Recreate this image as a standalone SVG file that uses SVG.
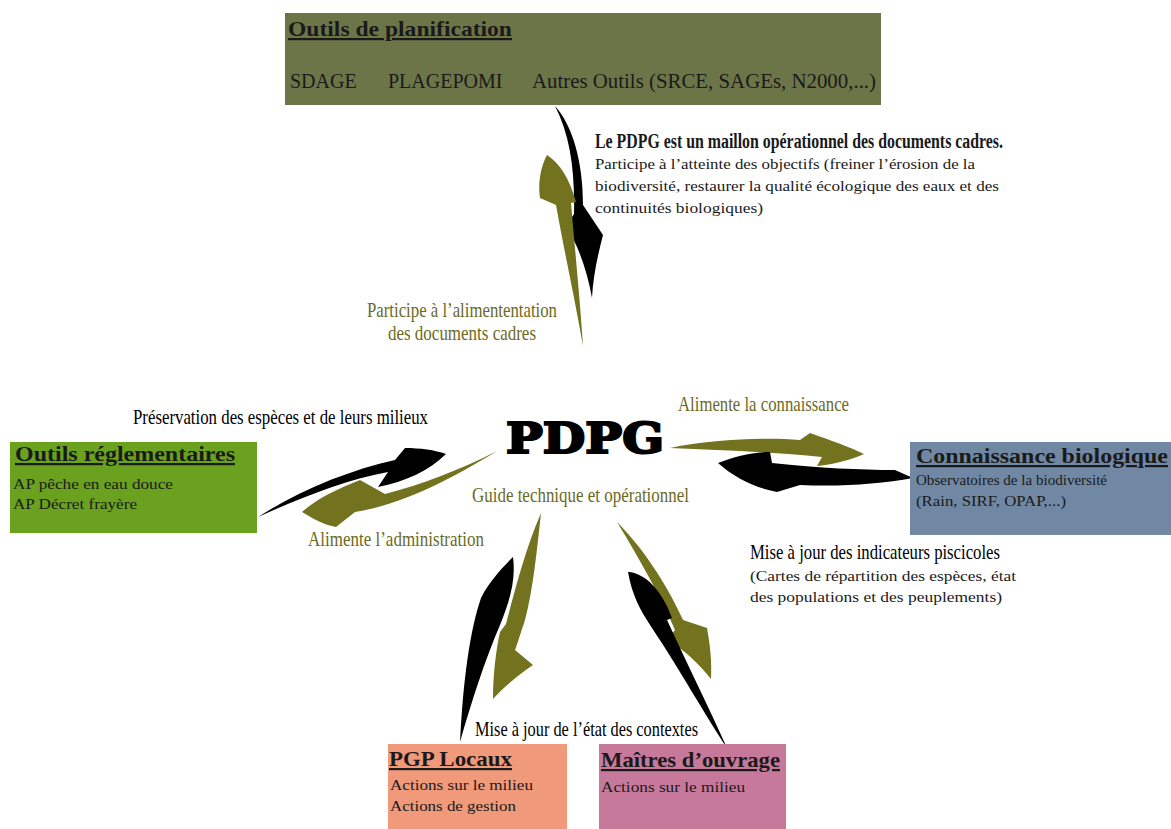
<svg xmlns="http://www.w3.org/2000/svg" width="1171" height="829" viewBox="0 0 1171 829">
<style>
text{font-family:"Liberation Serif","Times New Roman",serif;fill:#1a1a1a}
.ttl{font-weight:bold;font-size:22px;text-decoration:underline}
.body{font-size:15.5px}
.lbl{font-size:21px}
.olv{fill:#6a6a1e}
.bk{fill:#000}
.ol{fill:#72721f}
.gap{fill:none;stroke:#fff;stroke-width:1.2}
</style>
<rect width="1171" height="829" fill="#fff"/>

<g id="connectors">
  <!-- top pair -->
  <path class="bk" d="M555,106 C572,125 583,160 583,205 L603,235 C597,258 593,278 592,298 C587,270 578,245 566,226 L574,214 C575,170 570,135 555,106 Z"/>
  <path class="ol" d="M547,155 C560,163 570,180 576,202 L571,203 C575,250 580,300 583,346 C575,300 565,255 556,205 L540,198 C538,185 540,168 547,155 Z"/>
  <!-- left pair -->
  <path class="bk" d="M258,517 C300,490 350,470 395,460 L405,448 C420,448 435,450 446,454 C430,470 405,482 378,487 L388,472 C345,480 300,498 258,517 Z"/>
  <path class="ol" d="M497,451 C460,470 420,485 385,494 L360,480 C335,490 315,500 302,512 C315,520 325,525 336,527 L355,512 C400,505 450,480 497,451 Z"/>
  <!-- right pair -->
  <path class="ol" d="M670,448 C710,440 760,437 800,440 L810,433 C830,440 850,447 864,454 C850,460 835,464 817,466 L822,457 C770,452 720,450 670,448 Z"/>
  <path class="bk" d="M718,463 C735,456 752,452 770,452 L772,463 C820,468 860,470 895,470 L913,478 C880,484 840,487 800,485 L777,492 C755,488 735,478 718,463 Z"/>
  <!-- bottom-left pair -->
  <path class="bk" d="M513,557 C505,565 490,580 481,598 C470,630 463,680 460,742 C472,700 485,660 500,625 C510,600 516,580 513,557 Z"/>
  <path class="ol" d="M541,513 C537,550 533,590 525,620 C520,635 517,645 515,650 L533,665 C518,675 503,688 493,699 C493,675 496,650 500,632 L506,624 C515,590 525,550 541,513 Z"/>
  <!-- bottom-right pair -->
  <path class="ol" d="M617,522 C640,545 665,580 683,620 L707,628 C710,645 712,660 711,679 C700,665 685,650 667,640 L675,630 C660,595 640,560 617,522 Z"/>
  <path class="bk" d="M628,572 C645,573 662,590 672,618 L667,620 C690,670 710,710 727,748 C705,715 680,670 652,628 C640,610 632,595 628,572 Z"/>
</g>

<g id="planification">
  <rect x="285" y="13" width="596" height="92" fill="#6c7548"/>
  <text class="ttl" x="288" y="36" textLength="224" lengthAdjust="spacingAndGlyphs">Outils de planification</text>
  <text x="290" y="88" font-size="20">SDAGE</text>
  <text x="388" y="88" font-size="20">PLAGEPOMI</text>
  <text x="532" y="88" font-size="20" textLength="344" lengthAdjust="spacingAndGlyphs">Autres Outils (SRCE, SAGEs, N2000,...)</text>
</g>

<g id="label-top">
  <text x="595" y="148" font-size="20" font-weight="bold" textLength="408" lengthAdjust="spacingAndGlyphs">Le PDPG est un maillon opérationnel des documents cadres.</text>
  <text class="body" x="595" y="169" textLength="380" lengthAdjust="spacingAndGlyphs">Participe à l’atteinte des objectifs (freiner l’érosion de la</text>
  <text class="body" x="595" y="191" textLength="404" lengthAdjust="spacingAndGlyphs">biodiversité, restaurer la qualité écologique des eaux et des</text>
  <text class="body" x="595" y="213" textLength="168" lengthAdjust="spacingAndGlyphs">continuités biologiques)</text>
  <text class="lbl olv" x="367" y="317" textLength="190" lengthAdjust="spacingAndGlyphs">Participe à l’alimententation</text>
  <text class="lbl olv" x="388" y="340" textLength="148" lengthAdjust="spacingAndGlyphs">des documents cadres</text>
</g>

<g id="pdpg">
  <text x="506" y="453" font-weight="900" font-size="42" textLength="158" lengthAdjust="spacingAndGlyphs" style="font-family:'DejaVu Serif',serif;fill:#000;stroke:#000;stroke-width:2.2;stroke-linejoin:miter">PDPG</text>
  <text class="lbl olv" x="472" y="502" textLength="217" lengthAdjust="spacingAndGlyphs">Guide technique et opérationnel</text>
</g>

<g id="labels-left">
  <text class="lbl" x="133" y="424" textLength="295" lengthAdjust="spacingAndGlyphs" style="fill:#000">Préservation des espèces et de leurs milieux</text>
  <text class="lbl olv" x="308" y="546" textLength="176" lengthAdjust="spacingAndGlyphs">Alimente l’administration</text>
</g>

<g id="reglementaires">
  <rect x="10" y="442" width="247" height="91" fill="#6aa11f"/>
  <text class="ttl" x="15" y="461" textLength="220" lengthAdjust="spacingAndGlyphs">Outils réglementaires</text>
  <text class="body" x="13" y="489" textLength="160" lengthAdjust="spacingAndGlyphs">AP pêche en eau douce</text>
  <text class="body" x="13" y="509" textLength="124" lengthAdjust="spacingAndGlyphs">AP Décret frayère</text>
</g>

<g id="labels-right">
  <text class="lbl olv" x="678" y="411" textLength="171" lengthAdjust="spacingAndGlyphs">Alimente la connaissance</text>
  <text class="lbl" x="750" y="559" textLength="250" lengthAdjust="spacingAndGlyphs" style="fill:#000">Mise à jour des indicateurs piscicoles</text>
  <text class="body" x="750" y="581" textLength="266" lengthAdjust="spacingAndGlyphs">(Cartes de répartition des espèces, état</text>
  <text class="body" x="750" y="602" textLength="252" lengthAdjust="spacingAndGlyphs">des populations et des peuplements)</text>
</g>

<g id="connaissance">
  <rect x="910" y="442" width="261" height="93" fill="#7088a4"/>
  <text class="ttl" x="916" y="463" textLength="252" lengthAdjust="spacingAndGlyphs">Connaissance biologique</text>
  <text x="916" y="485" font-size="14.5" textLength="191" lengthAdjust="spacingAndGlyphs">Observatoires de la biodiversité</text>
  <text x="916" y="506" font-size="14.5" textLength="150" lengthAdjust="spacingAndGlyphs">(Rain, SIRF, OPAP,...)</text>
</g>

<g id="label-bottom">
  <text class="lbl" x="475" y="736" textLength="223" lengthAdjust="spacingAndGlyphs" style="fill:#000">Mise à jour de l’état des contextes</text>
</g>

<g id="pgp-locaux">
  <rect x="388" y="744" width="179" height="85" fill="#f0997b"/>
  <text class="ttl" x="389" y="766" textLength="123" lengthAdjust="spacingAndGlyphs">PGP Locaux</text>
  <text class="body" x="390" y="790" textLength="143" lengthAdjust="spacingAndGlyphs">Actions sur le milieu</text>
  <text class="body" x="390" y="811" textLength="126" lengthAdjust="spacingAndGlyphs">Actions de gestion</text>
</g>

<g id="maitres-ouvrage">
  <rect x="599" y="744" width="187" height="85" fill="#c7799b"/>
  <text class="ttl" x="601" y="767" textLength="179" lengthAdjust="spacingAndGlyphs">Maîtres d’ouvrage</text>
  <text class="body" x="601" y="792" textLength="144" lengthAdjust="spacingAndGlyphs">Actions sur le milieu</text>
</g>
</svg>
